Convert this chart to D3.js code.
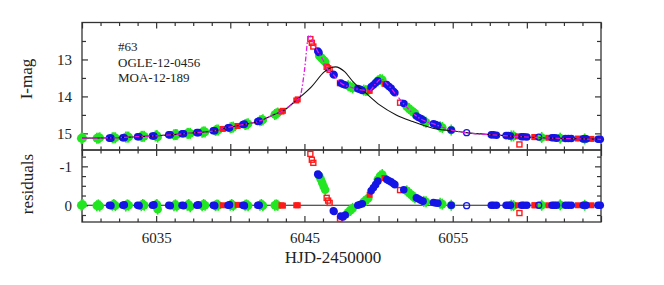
<!DOCTYPE html>
<html>
<head>
<meta charset="utf-8">
<script src="https://cdn.jsdelivr.net/npm/d3@7"></script>
<style>
  body { margin: 0; background: #fff; }
  text { font-family: "Liberation Serif", "Times New Roman", serif; fill: #222; }
</style>
</head>
<body>
<svg id="chart" width="664" height="285"></svg>
<script>
// ---- data: [HJD-2450000, I mag, residual] ----
const greenPts = [
  [6029.95, 15.13, 0.0], [6030.05, 15.13, -0.02],
  [6031.0, 15.13, 0.01], [6031.1, 15.13, -0.01], [6031.2, 15.12, 0.02],
  [6032.05, 15.12, 0.0], [6032.15, 15.12, -0.02], [6032.25, 15.12, 0.01],
  [6032.95, 15.1, 0.02], [6033.05, 15.1, -0.01], [6033.15, 15.1, 0.0],
  [6034.0, 15.08, 0.01], [6034.1, 15.08, -0.02], [6034.2, 15.08, 0.0],
  [6034.95, 15.07, 0.0], [6035.05, 15.06, -0.02], [6035.1, 15.1, 0.1],
  [6036.2, 15.04, 0.01], [6036.3, 15.03, -0.01], [6036.4, 15.03, 0.02],
  [6037.1, 15.0, 0.0], [6037.2, 15.0, -0.02], [6037.3, 15.0, 0.04],
  [6038.1, 14.97, 0.01], [6038.2, 14.96, -0.02], [6038.3, 14.96, 0.0],
  [6039.0, 14.92, 0.01], [6039.1, 14.91, -0.01], [6039.2, 14.91, 0.0],
  [6040.0, 14.85, 0.0], [6040.1, 14.84, -0.02], [6040.2, 14.83, 0.01],
  [6041.0, 14.76, 0.0], [6041.1, 14.75, -0.01], [6041.2, 14.74, 0.01],
  [6042.0, 14.66, 0.0], [6042.1, 14.65, -0.02], [6042.2, 14.63, 0.01],
  [6043.0, 14.49, 0.0], [6043.1, 14.47, -0.01], [6043.2, 14.45, 0.0],
  [6046.0, 12.9, -0.75], [6046.1, 12.94, -0.67], [6046.2, 12.98, -0.58], [6046.3, 13.02, -0.48], [6046.4, 13.06, -0.4],
  [6047.95, 13.71, 0.18], [6048.1, 13.74, 0.13], [6048.25, 13.77, 0.08],
  [6049.0, 13.83, -0.09], [6049.15, 13.84, -0.13], [6049.3, 13.84, -0.18],
  [6049.95, 13.58, -0.66], [6050.1, 13.54, -0.75], [6050.25, 13.55, -0.79],
  [6051.9, 14.28, -0.37], [6052.05, 14.33, -0.32], [6052.2, 14.38, -0.27], [6052.35, 14.43, -0.22], [6052.45, 14.46, -0.19],
  [6053.05, 14.67, -0.1], [6053.2, 14.7, -0.09],
  [6054.15, 14.82, -0.05], [6054.3, 14.84, -0.03],
  [6054.9, 14.91, 0.0],
  [6058.95, 15.07, 0.0], [6059.1, 15.07, 0.01],
  [6061.0, 15.11, 0.0], [6062.25, 15.13, -0.01], [6063.9, 15.15, 0.0]
];

const bluePts = [
  [6031.85, 15.13, 0.0], [6031.95, 15.13, 0.01],
  [6032.75, 15.12, 0.0], [6032.85, 15.12, -0.01],
  [6033.75, 15.09, 0.0], [6033.85, 15.09, 0.01],
  [6034.75, 15.07, 0.0], [6034.85, 15.07, -0.01],
  [6035.85, 15.04, 0.0], [6035.95, 15.04, 0.01],
  [6036.75, 15.01, 0.0], [6036.85, 15.01, 0.01],
  [6037.75, 14.98, 0.0], [6037.85, 14.98, -0.01],
  [6038.85, 14.93, 0.0], [6038.95, 14.93, 0.01],
  [6039.85, 14.85, 0.0], [6039.95, 14.85, -0.01],
  [6040.85, 14.76, 0.0], [6040.95, 14.75, 0.01],
  [6041.85, 14.68, 0.0], [6041.95, 14.67, 0.0],
  [6045.9, 12.77, -0.8], [6045.98, 12.81, -0.77],
  [6046.95, 13.4, 0.14], [6047.0, 13.42, 0.16],
  [6047.45, 13.64, 0.28], [6047.6, 13.67, 0.3], [6047.75, 13.69, 0.25],
  [6048.6, 13.79, 0.0], [6048.75, 13.81, -0.02], [6048.9, 13.84, -0.04],
  [6049.5, 13.74, -0.37], [6049.65, 13.69, -0.45], [6049.8, 13.63, -0.53], [6049.95, 13.58, -0.62],
  [6050.55, 13.68, -0.66], [6050.7, 13.73, -0.63], [6050.85, 13.78, -0.6], [6051.0, 13.86, -0.56], [6051.1, 13.9, -0.53],
  [6051.7, 14.19, -0.4],
  [6052.55, 14.53, -0.19], [6052.7, 14.57, -0.16], [6052.85, 14.6, -0.13], [6053.0, 14.64, -0.1],
  [6053.7, 14.74, -0.07], [6053.85, 14.76, -0.06], [6054.0, 14.79, -0.05],
  [6054.9, 14.91, 0.0],
  [6057.6, 15.04, 0.0], [6057.75, 15.04, 0.0], [6057.95, 15.05, 0.0],
  [6058.6, 15.06, 0.0], [6058.75, 15.06, 0.0], [6058.9, 15.07, 0.0],
  [6059.65, 15.09, 0.0], [6059.8, 15.09, 0.0], [6060.0, 15.1, 0.0],
  [6061.7, 15.12, 0.0], [6061.85, 15.12, 0.0], [6062.0, 15.13, 0.0],
  [6062.6, 15.14, 0.0], [6062.8, 15.14, 0.0], [6063.0, 15.14, 0.0],
  [6063.8, 15.15, 0.0], [6064.0, 15.15, 0.0],
  [6064.8, 15.16, 0.0], [6064.95, 15.16, 0.0]
];

const blueOpenPts = [[6055.94, 14.98, 0.01], [6060.8, 15.1, 0.0]];

const redPts = [
  [6039.5, 14.88, 0.0], [6040.5, 14.8, -0.01],
  [6043.45, 14.41, 0.0], [6043.55, 14.39, 0.01],
  [6044.45, 14.11, 0.0], [6044.55, 14.08, 0.0],
  [6049.4, 13.85, -0.27], [6050.4, 13.66, -0.7],
  [6059.4, 15.08, 0.0], [6060.5, 15.1, 0.0], [6060.55, 15.1, 0.0],
  [6061.45, 15.12, 0.0], [6063.45, 15.14, 0.0], [6064.35, 15.15, 0.0]
];

const redOpenPts = [
  [6045.4, 12.45, -1.32], [6045.5, 12.55, -1.17], [6045.6, 12.65, -1.09],
  [6046.5, 13.2, -0.19], [6046.6, 13.24, -0.12], [6046.7, 13.28, -0.06],
  [6047.4, 13.64, 0.35], [6051.45, 14.17, -0.39], [6059.5, 15.3, 0.2]
];

// model curves [t, mag]
const singleLens = [
  [6030.0, 15.13], [6032.09, 15.12], [6033.69, 15.09], [6034.79, 15.07], [6036.61, 15.02],
  [6037.73, 14.98], [6038.83, 14.94], [6039.64, 14.86], [6040.76, 14.77], [6041.88, 14.68],
  [6043.0, 14.48], [6043.56, 14.39], [6044.46, 14.1], [6045.47, 13.74], [6046.36, 13.33],
  [6046.81, 13.22], [6047.1, 13.2], [6047.71, 13.33], [6048.27, 13.6], [6049.17, 13.92],
  [6050.07, 14.23], [6051.19, 14.5], [6052.31, 14.68], [6053.66, 14.86], [6054.89, 14.93],
  [6055.9, 14.98], [6057.7, 15.04], [6059.61, 15.09], [6061.85, 15.13], [6065.0, 15.16]
];

const binaryLens = [
  [6030.0, 15.13], [6032.09, 15.12], [6033.69, 15.09], [6034.79, 15.07], [6036.61, 15.02],
  [6037.73, 14.98], [6038.83, 14.94], [6039.64, 14.86], [6040.76, 14.77], [6041.88, 14.68],
  [6043.0, 14.48], [6043.56, 14.39], [6044.46, 14.1], [6044.68, 14.03], [6045.02, 13.24],
  [6045.24, 12.43], [6045.35, 12.34], [6045.58, 12.52], [6045.91, 12.79], [6046.25, 13.01],
  [6046.48, 13.22], [6046.92, 13.4], [6047.49, 13.65], [6048.05, 13.74], [6048.94, 13.83],
  [6049.39, 13.85], [6049.73, 13.69], [6050.18, 13.53], [6050.63, 13.69], [6051.3, 14.01],
  [6051.87, 14.28], [6052.76, 14.59], [6053.89, 14.77], [6054.89, 14.91], [6055.9, 14.98],
  [6057.7, 15.04], [6059.61, 15.09], [6061.85, 15.13], [6065.0, 15.16]
];

const xMajor = [6030, 6035, 6040, 6045, 6050, 6055, 6060, 6065];
const xLabels = [6035, 6045, 6055];
const xMinor = d3.range(6030, 6065.01, 1.25).filter(v => !xMajor.includes(v));
const magMajor = [13, 14, 15];
const magMinor = [12.5, 13.5, 14.5];
const resMajor = [-1, 0];
const resMinor = [-1.25, -0.75, -0.5, -0.25, 0.25];
const labelLines = ['#63', 'OGLE-12-0456', 'MOA-12-189'];

// ---- layout ----
const left = 82, right = 601, top1 = 22.5, mid = 150, bot = 222;
const axisColor = '#333';

const x = d3.scaleLinear().domain([6030, 6065]).range([left, right]);
const yMag = d3.scaleLinear().domain([12, 15.45]).range([top1, mid]);
const yRes = d3.scaleLinear().domain([-1.42, 0.43]).range([mid, bot]);

const svg = d3.select('#chart');

function drawAxis(axis, transform, vals, size, labels) {
  let g = svg.append('g').attr('transform', transform)
    .call(axis.tickValues(vals).tickSizeInner(-size).tickSizeOuter(0)
      .tickPadding(10).tickFormat(labels ? (d => String(d)) : ''));
  g.select('.domain').remove();
  g.selectAll('line').attr('stroke', axisColor).attr('stroke-width', 1.2);
  g.selectAll('text').attr('font-size', 15).attr('fill', '#222')
    .attr('font-family', '"Liberation Serif", serif');
  return g;
}

// x ticks on all horizontal edges
drawAxis(d3.axisTop(x), `translate(0,${top1})`, xMajor, 6, false);
drawAxis(d3.axisTop(x), `translate(0,${top1})`, xMinor, 3.5, false);
drawAxis(d3.axisBottom(x), `translate(0,${mid})`, xMajor, 6, false);
drawAxis(d3.axisBottom(x), `translate(0,${mid})`, xMinor, 3.5, false);
drawAxis(d3.axisTop(x), `translate(0,${mid})`, xMajor, 6, false);
drawAxis(d3.axisTop(x), `translate(0,${mid})`, xMinor, 3.5, false);
drawAxis(d3.axisBottom(x), `translate(0,${bot})`, xMajor, 6, false);
drawAxis(d3.axisBottom(x), `translate(0,${bot})`, xMinor, 3.5, false);
drawAxis(d3.axisBottom(x), `translate(0,${bot})`, xLabels, 0, true);

// y ticks
drawAxis(d3.axisLeft(yMag), `translate(${left},0)`, magMajor, 6, true);
drawAxis(d3.axisLeft(yMag), `translate(${left},0)`, magMinor, 4, false);
drawAxis(d3.axisRight(yMag), `translate(${right},0)`, magMajor, 6, false);
drawAxis(d3.axisRight(yMag), `translate(${right},0)`, magMinor, 4, false);
drawAxis(d3.axisLeft(yRes), `translate(${left},0)`, resMajor, 6, true);
drawAxis(d3.axisLeft(yRes), `translate(${left},0)`, resMinor, 4, false);
drawAxis(d3.axisRight(yRes), `translate(${right},0)`, resMajor, 6, false);
drawAxis(d3.axisRight(yRes), `translate(${right},0)`, resMinor, 4, false);

// frames
svg.append('rect').attr('x', left).attr('y', top1).attr('width', right - left).attr('height', mid - top1)
  .attr('fill', 'none').attr('stroke', axisColor).attr('stroke-width', 1.3);
svg.append('rect').attr('x', left).attr('y', mid).attr('width', right - left).attr('height', bot - mid)
  .attr('fill', 'none').attr('stroke', axisColor).attr('stroke-width', 1.3);

// zero line of residuals
svg.append('line').attr('x1', left).attr('x2', right)
  .attr('y1', yRes(0)).attr('y2', yRes(0)).attr('stroke', '#222').attr('stroke-width', 1.1);

// points for one panel
function drawPoints(y, col) {
  let g = svg.append('g');
  g.selectAll('.gerr').data(greenPts).join('line')
    .attr('x1', d => x(d[0])).attr('x2', d => x(d[0]))
    .attr('y1', d => y(d[col]) - 5.5).attr('y2', d => y(d[col]) + 5.5)
    .attr('stroke', '#22e622').attr('stroke-width', 1.6);
  g.selectAll('.gdot').data(greenPts).join('circle')
    .attr('cx', d => x(d[0])).attr('cy', d => y(d[col])).attr('r', 4.3)
    .attr('fill', '#22e622');
  g.selectAll('.rsq').data(redPts).join('rect')
    .attr('x', d => x(d[0]) - 3).attr('y', d => y(d[col]) - 3)
    .attr('width', 6).attr('height', 6).attr('fill', '#ff1a1a');
  g.selectAll('.rop').data(redOpenPts).join('rect')
    .attr('x', d => x(d[0]) - 2.5).attr('y', d => y(d[col]) - 2.5)
    .attr('width', 5).attr('height', 5).attr('fill', 'none')
    .attr('stroke', '#ff1a1a').attr('stroke-width', 1.4);
  g.selectAll('.bdot').data(bluePts).join('circle')
    .attr('cx', d => x(d[0])).attr('cy', d => y(d[col])).attr('r', 3.8)
    .attr('fill', '#1414e6');
  g.selectAll('.bop').data(blueOpenPts).join('circle')
    .attr('cx', d => x(d[0])).attr('cy', d => y(d[col])).attr('r', 3)
    .attr('fill', 'none').attr('stroke', '#1414e6').attr('stroke-width', 1.3);
}

drawPoints(yMag, 1);
drawPoints(yRes, 2);

// model curves
const line = d3.line().x(d => x(d[0])).y(d => yMag(d[1])).curve(d3.curveMonotoneX);
svg.append('path').datum(singleLens).attr('d', line)
  .attr('fill', 'none').attr('stroke', '#111').attr('stroke-width', 1.1);
svg.append('path').datum(binaryLens).attr('d', line)
  .attr('fill', 'none').attr('stroke', '#e619e6').attr('stroke-width', 1.3)
  .attr('stroke-dasharray', '5,2,1.5,2');

// labels
svg.append('g').selectAll('text').data(labelLines).join('text')
  .attr('x', 118).attr('y', (d, i) => 51 + i * 15.5)
  .attr('font-size', 13).text(d => d);

svg.append('text').attr('transform', 'translate(31.5,79) rotate(-90)')
  .attr('text-anchor', 'middle').attr('font-size', 17).text('I-mag');
svg.append('text').attr('transform', 'translate(33,184) rotate(-90)')
  .attr('text-anchor', 'middle').attr('font-size', 17).text('residuals');
svg.append('text').attr('x', 333).attr('y', 263)
  .attr('text-anchor', 'middle').attr('font-size', 17).text('HJD-2450000');
</script>
</body>
</html>
